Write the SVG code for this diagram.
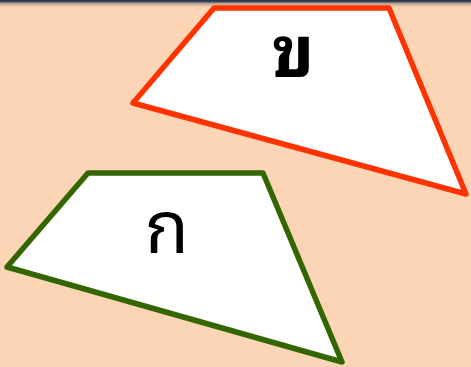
<svg xmlns="http://www.w3.org/2000/svg" width="471" height="367" viewBox="0 0 471 367">
<defs>
<linearGradient id="top" x1="0" y1="0" x2="0" y2="1">
<stop offset="0" stop-color="#1f2d4a"/>
<stop offset="0.2" stop-color="#3a3f52"/>
<stop offset="0.5" stop-color="#b8a090"/>
<stop offset="1" stop-color="#fbd5b5"/>
</linearGradient>
</defs>
<style>
.shape{fill:#ffffff;stroke-width:5.5;stroke-linejoin:round}
.lbl{font-family:"Noto Sans Thai Looped","Noto Serif Thai","Tahoma","Loma","Garuda","Noto Sans Thai","Noto Sans",sans-serif;font-size:72px;text-anchor:middle;fill:#000}
</style>
<rect width="471" height="367" fill="#fbd5b5"/>
<rect width="471" height="7" fill="url(#top)"/>
<g id="shape-kho">
<polygon class="shape" stroke="#ff3300" points="214,8 389,8 466,194 133,103"/>
<text class="lbl" x="293" y="77" font-weight="bold">ข</text>
</g>
<g id="shape-ko">
<polygon class="shape" stroke="#336600" points="88,173 263,173 342,362 7,267"/>
<text class="lbl" x="167" y="253">ก</text>
</g>
</svg>
